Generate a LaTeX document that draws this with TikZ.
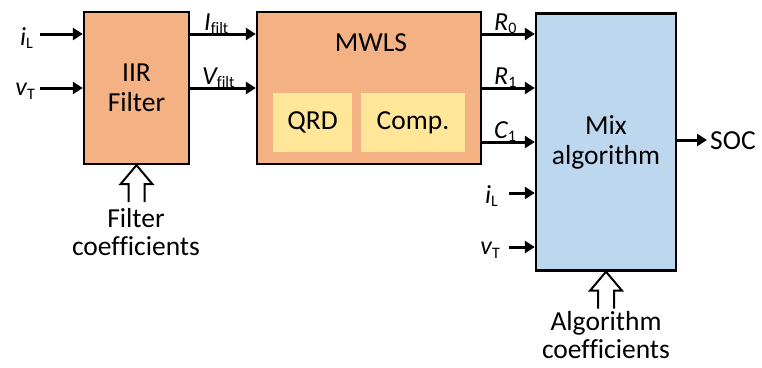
\documentclass[tikz,border=0pt]{standalone}
\usepackage{fontspec}
\setmainfont[Ligatures=NoCommon]{Carlito}
\usetikzlibrary{calc,arrows.meta}
\definecolor{boxorange}{HTML}{F4B183}
\definecolor{boxyellow}{HTML}{FFE699}
\definecolor{boxblue}{HTML}{BDD7EE}
\newcommand{\lsub}[1]{\raisebox{-0.3ex}{\fontsize{16}{16}\selectfont #1}}
\begin{document}
\begin{tikzpicture}[x=1pt,y=-1pt,
  block/.style={draw=black,line width=2.4pt,inner sep=0pt,align=center,font=\fontsize{27.5}{30}\selectfont},
  inner/.style={fill=boxyellow,draw=none,inner sep=0pt,font=\fontsize{27.5}{30}\selectfont},
  arr/.style={line width=3pt,-{Triangle[length=10pt,width=12pt]}},
  lbl/.style={inner sep=0pt,font=\fontsize{26}{26}\selectfont\itshape},
  txt/.style={inner sep=0pt,align=center,font=\fontsize{27.5}{28}\selectfont},
  hollow/.style={line width=2pt,line join=miter}]
\useasboundingbox (0,0) rectangle (762,367);
% blocks
\node[block,fill=boxorange,minimum width=105pt,minimum height=152pt] (iir) at (136.5,88) {IIR\\Filter};
\node[block,fill=boxorange,minimum width=224pt,minimum height=152pt] (mwls) at (369,88) {};
\node[txt] (mwlst) at (371,43) {MWLS};
\node[inner,minimum width=79pt,minimum height=59pt] (qrd) at (312.5,122.5) {QRD};
\node[inner,minimum width=104pt,minimum height=59pt] (comp) at (413,122.5) {Comp.};
\node[block,fill=boxblue,minimum width=140pt,minimum height=257pt] (mix) at (606,142) {Mix\\algorithm};
% input arrows to IIR
\coordinate (a1) at (40,34);
\coordinate (a2) at (40,88);
\draw[arr] (a1) -- (a1 -| iir.west);
\draw[arr] (a2) -- (a2 -| iir.west);
\node[lbl,anchor=east] (li1) at (33,38) {i\lsub{\upshape L}};
\node[lbl,anchor=east] (lv1) at (35,91) {v\lsub{\upshape T}};
% IIR to MWLS
\draw[arr] (a1 -| iir.east) -- (a1 -| mwls.west);
\draw[arr] (a2 -| iir.east) -- (a2 -| mwls.west);
\node[lbl,anchor=base west] (lif) at (204,30) {I\lsub{\upshape filt}};
\node[lbl,anchor=base west] (lvf) at (202,84) {V\lsub{\upshape filt}};
% MWLS to Mix
\coordinate (a3) at (0,142);
\draw[arr] (a1 -| mwls.east) -- (a1 -| mix.west);
\draw[arr] (a2 -| mwls.east) -- (a2 -| mix.west);
\draw[arr] (a3 -| mwls.east) -- (a3 -| mix.west);
\node[lbl,anchor=base west] (lr0) at (494,30) {R\lsub{\upshape 0}};
\node[lbl,anchor=base west] (lr1) at (494,84) {R\lsub{\upshape 1}};
\node[lbl,anchor=base west] (lc1) at (494,138) {C\lsub{\upshape 1}};
% extra inputs to Mix
\coordinate (a4) at (509,193);
\coordinate (a5) at (509,247);
\draw[arr] (a4) -- (a4 -| mix.west);
\draw[arr] (a5) -- (a5 -| mix.west);
\node[lbl,anchor=east] (li2) at (498,196) {i\lsub{\upshape L}};
\node[lbl,anchor=east] (lv2) at (500,250) {v\lsub{\upshape T}};
% output
\coordinate (soc) at (707,140);
\draw[arr] (soc -| mix.east) -- (soc);
\node[txt,anchor=west] (soct) at (710,141) {SOC};
% hollow arrows
\draw[hollow] ($(iir.south)+(-8,37)$) -- ++(0,-18) -- ++(-8,0) -- (iir.south) -- ++(16,19) -- ++(-8,0) -- ++(0,18);
\node[txt] (fc) at (136,232) {Filter\\coefficients};
\draw[hollow] ($(mix.south)+(-8,37)$) -- ++(0,-18) -- ++(-8,0) -- (mix.south) -- ++(16,19) -- ++(-8,0) -- ++(0,18);
\node[txt] (ac) at (606,335) {Algorithm\\coefficients};
\end{tikzpicture}
\end{document}
